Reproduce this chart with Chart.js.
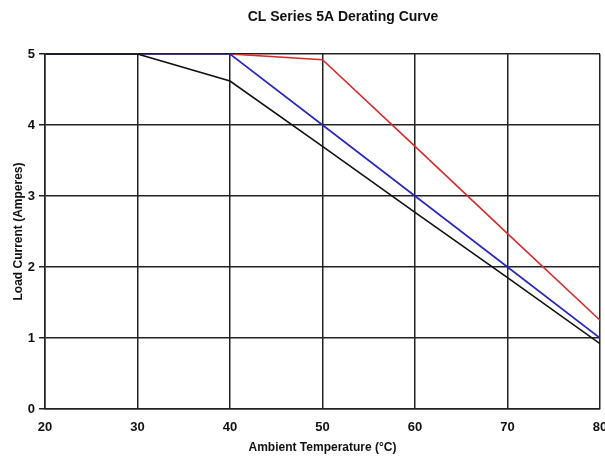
<!DOCTYPE html>
<html>
<head>
<meta charset="utf-8">
<script src="https://cdn.jsdelivr.net/npm/chart.js@4/dist/chart.umd.min.js"></script>
<style>
html,body{margin:0;padding:0;background:#fff;}
#wrap{width:605px;height:459px;position:relative;}
</style>
</head>
<body>
<div id="wrap"><canvas id="c" width="605" height="459"></canvas></div>
<script>
const chartTitle = "CL Series 5A Derating Curve";
const xTitle = "Ambient Temperature (\u00B0C)";
const yTitle = "Load Current (Amperes)";
const temperatures = [20, 30, 40, 50, 60, 70, 80];
const seriesBlack = [5, 5, 4.62, 3.70, 2.77, 1.85, 0.92];
const seriesBlue = [5, 5, 5, 4.0, 3.0, 2.0, 1.0];
const seriesRed = [5, 5, 5, 4.92, 3.70, 2.47, 1.25];
const yTickLabels = ["0", "1", "2", "3", "4", "5"];
const xTickLabels = ["20", "30", "40", "50", "60", "70", "80"];

const toXY = (vals) => vals.map((v, i) => ({x: temperatures[i], y: v}));
const FONT = "'Liberation Sans', Arial, sans-serif";

const titlePlugin = {
  id: 'customTitle',
  afterDraw(chart) {
    const ctx = chart.ctx;
    ctx.save();
    ctx.font = "bold 14px " + FONT;
    ctx.fillStyle = "#111";
    ctx.textAlign = "center";
    ctx.textBaseline = "middle";
    ctx.fillText(chartTitle, 343, 17);
    ctx.restore();
  }
};

new Chart(document.getElementById('c'), {
  type: 'line',
  data: {
    datasets: [
      {data: toXY(seriesBlack), borderColor: '#111', borderWidth: 1.6, pointRadius: 0, tension: 0, fill: false},
      {data: toXY(seriesBlue), borderColor: '#2626c4', borderWidth: 1.6, pointRadius: 0, tension: 0, fill: false},
      {data: toXY(seriesRed), borderColor: '#da2a2a', borderWidth: 1.6, pointRadius: 0, tension: 0, fill: false}
    ]
  },
  options: {
    responsive: false,
    animation: false,
    devicePixelRatio: 1,
    layout: {padding: {left: 0, right: 5, top: 54, bottom: 0}},
    plugins: {legend: {display: false}, title: {display: false}, tooltip: {enabled: false}},
    scales: {
      x: {
        type: 'linear', min: 20, max: 80,
        afterFit(s) { s.height = 50; s.paddingLeft = 0; s.paddingRight = 0; },
        afterBuildTicks(s) { s.ticks = temperatures.map(v => ({value: v})); },
        ticks: {
          stepSize: 10, padding: 11, color: '#111', maxRotation: 0,
          font: {family: FONT, size: 13, weight: 'bold'},
          callback: (v) => xTickLabels[temperatures.indexOf(v)] ?? ''
        },
        grid: {color: '#222', lineWidth: 1.5, drawTicks: false},
        border: {color: '#222', width: 1.5},
        title: {display: true, text: xTitle, color: '#111', padding: {top: 0, bottom: 4},
          font: {family: FONT, size: 12, weight: 'bold'}}
      },
      y: {
        type: 'linear', min: 0, max: 5,
        afterFit(s) { s.width = 45; s.paddingTop = 0; s.paddingBottom = 0; },
        ticks: {
          stepSize: 1, padding: 4, color: '#111',
          font: {family: FONT, size: 13, weight: 'bold'},
          callback: (v) => yTickLabels[v] ?? ''
        },
        grid: {color: '#222', lineWidth: 1.5, tickLength: 6},
        border: {color: '#222', width: 1.5},
        title: {display: true, text: yTitle, color: '#111', padding: {top: 11, bottom: 0},
          font: {family: FONT, size: 12, weight: 'bold'}}
      }
    }
  },
  plugins: [titlePlugin]
});
</script>
</body>
</html>
